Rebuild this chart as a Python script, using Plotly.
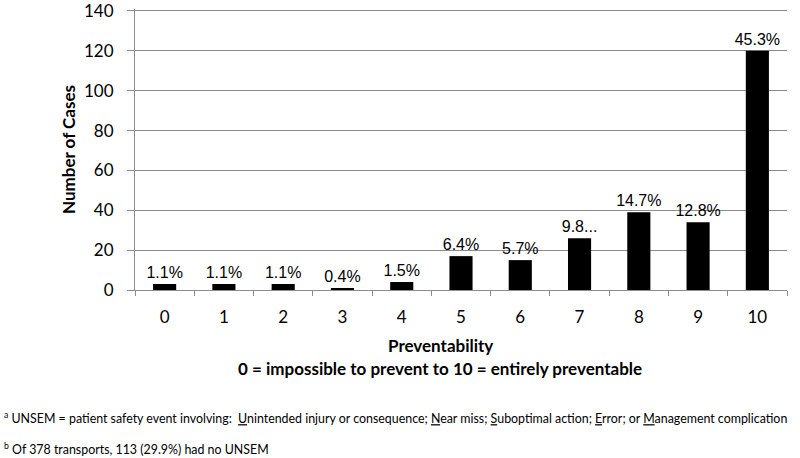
import plotly.graph_objects as go

categories = ["0", "1", "2", "3", "4", "5", "6", "7", "8", "9", "10"]
cases = [3, 3, 3, 1, 4, 17, 15, 26, 39, 34, 120]
pct_labels = ["1.1%", "1.1%", "1.1%", "0.4%", "1.5%", "6.4%", "5.7%", "9.8...", "14.7%", "12.8%", "45.3%"]
y_ticks = [0, 20, 40, 60, 80, 100, 120, 140]

fig = go.Figure()
fig.add_trace(go.Bar(
    x=categories, y=cases, text=pct_labels, textposition="outside",
    textfont=dict(family="Liberation Sans", size=16, color="black"),
    constraintext="none",
    marker=dict(color="black", line=dict(width=0)),
    cliponaxis=False, width=0.39,
))

H = 281.0
W = 652.0
def py(p):
    return (290 - p) / H
def px(p):
    return (p - 135) / W

fig.update_layout(
    width=800, height=458,
    margin=dict(l=135, r=13, t=9, b=168),
    plot_bgcolor="white", paper_bgcolor="white",
    showlegend=False,
    font=dict(family="Lato", color="black"),
    xaxis=dict(
        type="category", tickson="boundaries", ticks="outside", ticklen=5,
        tickcolor="#8c8c8c", showline=True, linecolor="#8c8c8c", linewidth=1,
        showgrid=False, tickfont=dict(family="Lato", size=17, color="black"),
        range=[-0.5, 10.5], automargin=False, ticklabelstandoff=12,
    ),
    yaxis=dict(
        range=[0, 141], tickvals=y_ticks, ticks="outside", ticklen=7,
        tickcolor="#8c8c8c", showline=True, linecolor="#8c8c8c", linewidth=1,
        showgrid=True, gridcolor="#8c8c8c", gridwidth=1, zeroline=False,
        tickfont=dict(family="Lato", size=17, color="black"), automargin=False,
        ticklabelstandoff=10, ticklabeloverflow="allow",
    ),
    annotations=[
        dict(text="<b>Number of Cases</b>", xref="paper", yref="paper",
             x=px(68), y=py(150), textangle=-90, showarrow=False,
             font=dict(family="Lato", size=17), xanchor="center", yanchor="middle"),
        dict(text="<b>Preventability</b>", xref="paper", yref="paper",
             x=px(440), y=py(345), showarrow=False,
             font=dict(family="Lato", size=17), xanchor="center", yanchor="middle"),
        dict(text="<b>0 = impossible to prevent to 10 = entirely preventable</b>", xref="paper", yref="paper",
             x=px(440), y=py(368), showarrow=False,
             font=dict(family="Lato", size=17), xanchor="center", yanchor="middle"),
        dict(text="<sup>a</sup> UNSEM = patient safety event involving:  <u>U</u>nintended injury or consequence; <u>N</u>ear miss; <u>S</u>uboptimal action; <u>E</u>rror; or <u>M</u>anagement complication",
             xref="paper", yref="paper", x=px(2), y=py(418), showarrow=False,
             font=dict(family="Lato", size=12.4), xanchor="left", yanchor="middle"),
        dict(text="<sup>b</sup> Of 378 transports, 113 (29.9%) had no UNSEM",
             xref="paper", yref="paper", x=px(2), y=py(448), showarrow=False,
             font=dict(family="Lato", size=12.4), xanchor="left", yanchor="middle"),
    ],
)

fig.write_html("out.html", config={"displayModeBar": False},
               post_script="document.body.style.margin='0';")
